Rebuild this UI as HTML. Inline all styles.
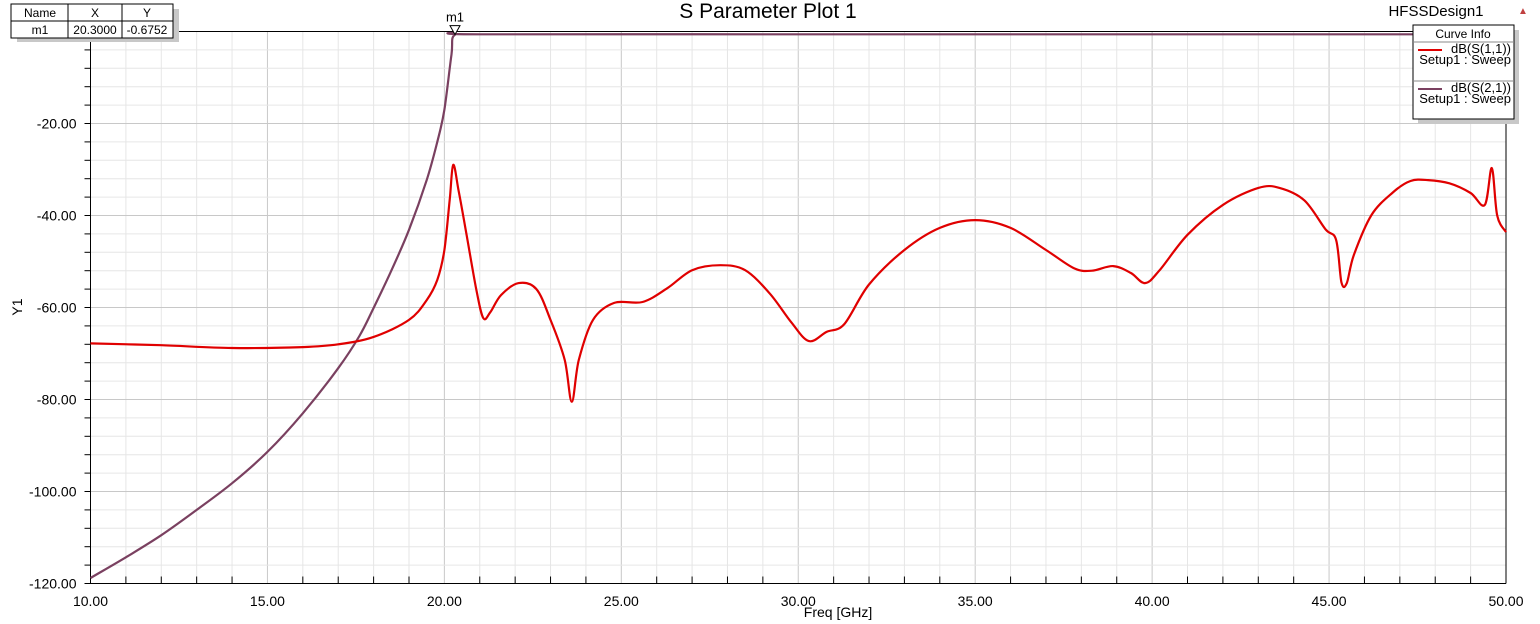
<!DOCTYPE html>
<html><head><meta charset="utf-8">
<style>
html,body{margin:0;padding:0;background:#fff;width:1540px;height:624px;overflow:hidden;font-family:"Liberation Sans",Arial,sans-serif}
svg{display:block}
</style></head>
<body>
<svg id="chart" width="1540" height="624" viewBox="0 0 1540 624">
  <text x="768" y="18" font-size="21" text-anchor="middle" fill="#000">S Parameter Plot 1</text>
  <text x="1436" y="16" font-size="15" text-anchor="middle" fill="#000">HFSSDesign1</text>
  <text x="1518" y="14" font-size="10" fill="#c04040">▲</text>
  <g id="grid"></g>
  <g id="axes"></g>
  <g id="series"></g>
  <text x="838" y="617" font-size="14" text-anchor="middle">Freq [GHz]</text>
  <text x="22" y="307" font-size="14" text-anchor="middle" transform="rotate(-90 22 307)">Y1</text>
  <g>
    <rect x="17" y="9" width="162" height="33" fill="#c8c8c8"/>
    <rect x="11" y="4" width="162" height="34" fill="#fff" stroke="#000"/>
    <line x1="11" y1="21" x2="173" y2="21" stroke="#000"/>
    <line x1="68" y1="4" x2="68" y2="38" stroke="#000"/>
    <line x1="122" y1="4" x2="122" y2="38" stroke="#000"/>
    <text x="40" y="17" font-size="12" text-anchor="middle">Name</text>
    <text x="95" y="17" font-size="12" text-anchor="middle">X</text>
    <text x="147" y="17" font-size="12" text-anchor="middle">Y</text>
    <text x="40" y="34" font-size="12" text-anchor="middle">m1</text>
    <text x="95" y="34" font-size="12" text-anchor="middle">20.3000</text>
    <text x="147" y="34" font-size="12" text-anchor="middle">-0.6752</text>
  </g>
  <g>
    <rect x="1418" y="30" width="101" height="94" fill="#c8c8c8"/>
    <rect x="1413" y="25" width="101" height="94" fill="#fff" stroke="#000"/>
    <text x="1463" y="38" font-size="12" text-anchor="middle">Curve Info</text>
    <line x1="1413" y1="42" x2="1514" y2="42" stroke="#888"/>
    <g>
      <line x1="1418" y1="50" x2="1442" y2="50" stroke="#e00000" stroke-width="2"/>
      <text x="1511" y="53" font-size="13" text-anchor="end">dB(S(1,1))</text>
      <text x="1511" y="64" font-size="13" text-anchor="end">Setup1 : Sweep</text>
    </g>
    <line x1="1413" y1="81" x2="1514" y2="81" stroke="#888"/>
    <g>
      <line x1="1418" y1="89" x2="1442" y2="89" stroke="#7a4060" stroke-width="2"/>
      <text x="1511" y="92" font-size="13" text-anchor="end">dB(S(2,1))</text>
      <text x="1511" y="103" font-size="13" text-anchor="end">Setup1 : Sweep</text>
    </g>
  </g>
</svg>
<script>
const xTicks=[10,15,20,25,30,35,40,45,50];
const xTickLabels=["10.00","15.00","20.00","25.00","30.00","35.00","40.00","45.00","50.00"];
const yTicks=[-20,-40,-60,-80,-100,-120];
const yTickLabels=["-20.00","-40.00","-60.00","-80.00","-100.00","-120.00"];
const s11Freq=[10,12,14,16,17,18,19,19.5,19.8,20.0,20.15,20.25,20.4,20.6,20.9,21.1,21.3,21.6,22.1,22.6,23.0,23.4,23.6,23.8,24.2,24.8,25.6,26.3,27.0,27.8,28.5,29.2,29.8,30.3,30.8,31.3,32,33,34,35,36,37,37.8,38.3,38.9,39.4,39.8,40.2,41,42,43,43.6,44.3,44.9,45.2,45.35,45.5,45.7,46.2,46.8,47.3,47.8,48.4,49.0,49.4,49.6,49.75,50];
const s11dB=[-67.8,-68.2,-68.8,-68.6,-68,-66.4,-62.7,-58.4,-54,-47.5,-36.6,-29,-34.5,-43,-56,-62.3,-61,-57.3,-54.7,-56,-62.7,-71.4,-80.5,-71.4,-62.7,-59,-58.8,-55.8,-51.9,-50.8,-51.9,-57,-63.2,-67.3,-65.3,-63.6,-55,-47.5,-42.7,-41,-42.7,-47.5,-51.5,-52,-51,-52.5,-54.7,-52,-44.2,-37.7,-34,-34,-36.7,-43,-45.3,-54.5,-54.7,-48.6,-39.9,-35,-32.5,-32.3,-33,-35.1,-37.7,-29.7,-40,-43.6];
const s21Freq=[10,11,12,13,14,15,16,17,17.6,18,18.5,19,19.5,19.8,20,20.2,20.3,21,30,40,50];
const s21dB=[-118.8,-114.3,-109.5,-104,-98.2,-91.4,-83,-73.2,-66.2,-60.1,-52,-43.1,-32.3,-24,-17,-5,-0.675,-0.6,-0.6,-0.6,-0.6];

const X0=90.5,X1=1506,Y0=31.5,Y1=583.5,fMin=10,fMax=50,dMax=0,dMin=-120;
const xs=f=>X0+(f-fMin)/(fMax-fMin)*(X1-X0);
const ys=d=>Y0+(dMax-d)/(dMax-dMin)*(Y1-Y0);
const NS='http://www.w3.org/2000/svg';
function mk(tag,attrs,parent){const e=document.createElementNS(NS,tag);for(const k in attrs)e.setAttribute(k,attrs[k]);parent.appendChild(e);return e;}
const grid=document.getElementById('grid'),axes=document.getElementById('axes'),series=document.getElementById('series');
for(let f=fMin;f<=fMax;f+=1){
  const major=(f%5===0);
  const l=mk('line',{x1:xs(f),x2:xs(f),y1:Y0,y2:Y1,stroke:major?'#c8c8c8':'#e6e6e6','stroke-width':1},grid);
  
  
  const t=mk('line',{x1:xs(f),x2:xs(f),y1:Y1-(major?0:7),y2:Y1,stroke:'#000'},axes);
  
  
}
for(let d=dMax;d>=dMin;d-=4){
  const major=(d%20===0);
  const l=mk('line',{x1:X0,x2:X1,y1:ys(d),y2:ys(d),stroke:major?'#c8c8c8':'#e6e6e6','stroke-width':1},grid);
  
  
  const t=mk('line',{x1:X0-6,x2:X0,y1:ys(d),y2:ys(d),stroke:'#000'},axes);
  
  
}
mk('line',{x1:X0,x2:X0,y1:Y0,y2:Y1,stroke:'#000'},axes);
mk('line',{x1:X0,x2:X1,y1:Y1,y2:Y1,stroke:'#000'},axes);
mk('line',{x1:X0,x2:X1,y1:Y0,y2:Y0,stroke:'#000'},axes);
mk('line',{x1:X1,x2:X1,y1:Y0,y2:Y1,stroke:'#000'},axes);
xTicks.forEach((f,i)=>{
  const t=mk('text',{x:xs(f),y:606,'font-size':14,'text-anchor':'middle'},axes);
  t.textContent=xTickLabels[i];
  
  
});
yTicks.forEach((d,i)=>{
  const t=mk('text',{x:X0-14,y:ys(d)+5,'font-size':14,'text-anchor':'end'},axes);
  t.textContent=yTickLabels[i];
  
  
});
function smoothPath(px,py){
  let d='M'+px[0].toFixed(1)+','+py[0].toFixed(1);
  const n=px.length;
  for(let i=0;i<n-1;i++){
    const x0=px[Math.max(i-1,0)],y0=py[Math.max(i-1,0)];
    const x1=px[i],y1=py[i],x2=px[i+1],y2=py[i+1];
    const x3=px[Math.min(i+2,n-1)],y3=py[Math.min(i+2,n-1)];
    const k=1/6;
    d+=` C${(x1+(x2-x0)*k).toFixed(1)},${(y1+(y2-y0)*k).toFixed(1)} ${(x2-(x3-x1)*k).toFixed(1)},${(y2-(y3-y1)*k).toFixed(1)} ${x2.toFixed(1)},${y2.toFixed(1)}`;
  }
  return d;
}
function line(fr,db,color,name){
  const p=mk('path',{d:smoothPath(fr.map(xs),db.map(ys)),fill:'none',stroke:color,'stroke-width':2.2,'stroke-linejoin':'round'},series);
  
  
}
line(s21Freq,s21dB,'#7a4060','s21-curve');
line(s11Freq,s11dB,'#e00000','s11-curve');
const mx=xs(20.3),my=ys(-0.675);
const m=mk('polygon',{points:`${mx-5},${my-9} ${mx+5},${my-9} ${mx},${my}`,fill:'#fff',stroke:'#000'},series);


const mt=mk('text',{x:mx,y:my-13,'font-size':13,'text-anchor':'middle'},series);
mt.textContent='m1';


</script>
</body></html>
